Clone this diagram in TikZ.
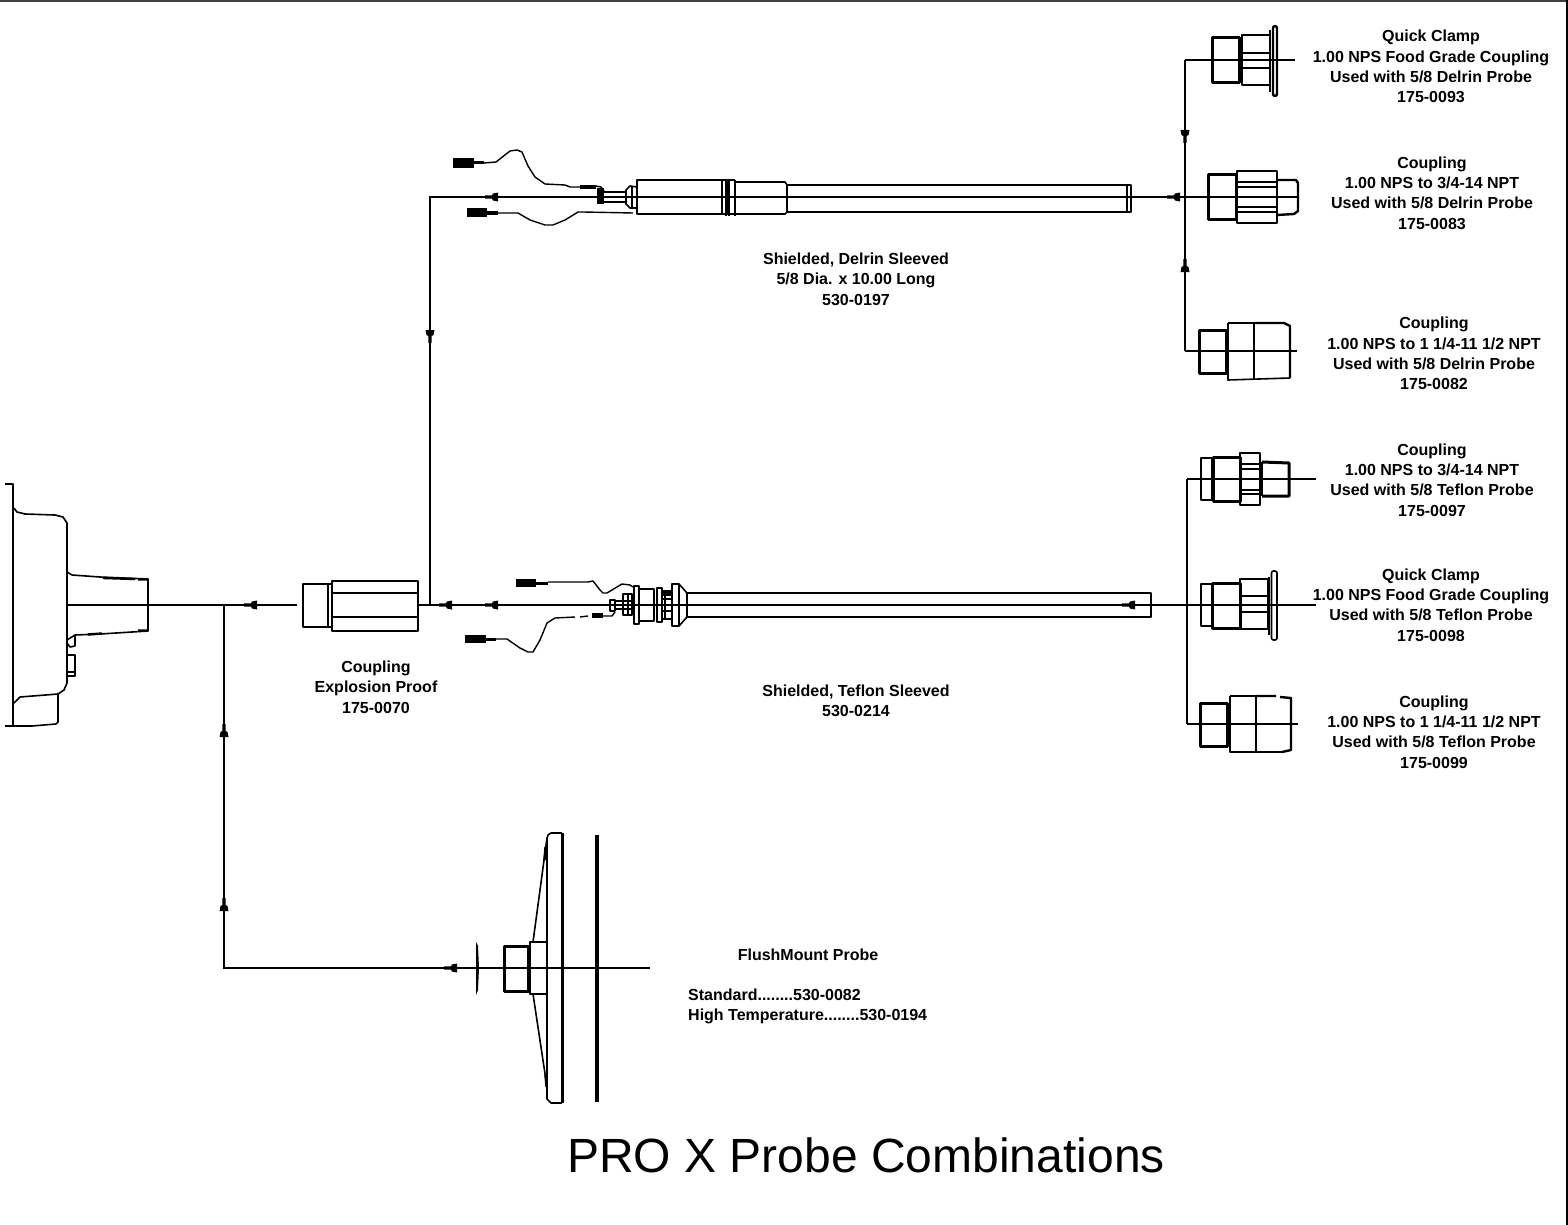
\documentclass[tikz,border=0pt]{standalone}
\usepackage{fontspec}
\setmainfont{Liberation Sans}
\tikzset{
  part/.style={line width=1.6pt, line join=round},
  heavy/.style={line width=3pt, line join=round},
  midline/.style={line width=2.4pt, line join=round},
  wire/.style={line width=1.4pt, line join=round},
  conn/.style={line width=1.6pt},
  lbl/.style={align=center, inner sep=0pt, font=\fontsize{16}{20.4}\selectfont\bfseries},
  flowmark/.pic={\fill (-6,-4.5) -- (-6,4.5) -- (-1,3.5) -- (0,1.6) -- (7,1.6) -- (7,-1.6) -- (0,-1.6) -- (-1,-3.5) -- cycle;}
}
\begin{document}
\begin{tikzpicture}[x=1pt,y=-1pt]
  \useasboundingbox (0,0) rectangle (1568,1225);
  \draw[line width=2pt, black!75] (0,1) -- (1567,1);
  \draw[line width=1.6pt] (1567,0) -- (1567,1225);

  % connector points
  \coordinate (hub) at (67,605);
  \coordinate (teeflush) at (224,605);
  \coordinate (expleft) at (297,605);
  \coordinate (expright) at (418,605);
  \coordinate (teeprobe) at (430,605);
  \coordinate (delrinleft) at (430,197);
  \coordinate (delrinbus) at (1185,197);
  \coordinate (delrinend) at (1298,197);
  \coordinate (bustop) at (1185,60);
  \coordinate (clampend) at (1295,60);
  \coordinate (busbot) at (1185,351);
  \coordinate (npt1end) at (1297,351);
  \coordinate (teflonend) at (1316,605);
  \coordinate (tefbustop) at (1187,479);
  \coordinate (tefbusbot) at (1187,724);
  \coordinate (npt2end) at (1316,479);
  \coordinate (npt3end) at (1298,724);
  \coordinate (flushcorner) at (224,968);
  \coordinate (flushend) at (650,968);

  \draw[conn] (hub) -- (expleft);
  \draw[conn] (teeflush) -- (flushcorner) -- (flushend);
  \draw[conn] (expright) -- (teflonend);
  \draw[conn] (teeprobe) -- (delrinleft) -- (delrinend);
  \draw[conn] (bustop) -- (busbot);
  \draw[conn] (clampend) -- (bustop);
  \draw[conn] (npt1end) -- (busbot);
  \draw[conn] (tefbustop) -- (tefbusbot);
  \draw[conn] (npt2end) -- (tefbustop);
  \draw[conn] (npt3end) -- (tefbusbot);

  \foreach \x/\y/\a in {251/605/180,446/605/180,492/605/180,1129/605/180,492/197/180,1174/197/180,
    430/336/-90,224/731/90,224/905/90,451/968/180,1185/136/-90,1185/266/90}{
    \pic[rotate=\a] at (\x,\y) {flowmark};
  }

  % coupling bodies, heavy outline
  \foreach \a/\b/\c/\d in {1212/38/1239/83,1208/175/1236/219,1199/330/1226/373,1213/457/1240/501,
    1212/583/1240/628,1200/703/1227/746,504/946/528/991}{
    \draw[heavy] (\a,\b) -- (\c,\b) -- (\c,\d) -- (\a,\d) -- cycle;
  }
  % plain outline
  \foreach \a/\b/\c/\d in {303/584/328/627,332/581/418/631,637/180/727/214,787/185/1131/212,
    1242/35/1270/85,1237/171/1277/223,1201/458/1212/500,1240/453/1260/505,1201/584/1212/626,
    1240/579/1268/629,530/942/547/994,639/589/654/621,623/594/632/615}{
    \draw[part] (\a,\b) -- (\c,\b) -- (\c,\d) -- (\a,\d) -- cycle;
  }

  % housing
  \draw[part] (5,484) -- (13,484) -- (13,726);
  \draw[part] (14,508) -- (17,512) -- (25,514) -- (55,515) -- (63,517) -- (67,523) -- (67,683) -- (64,690) -- (58,694) -- (20,697) -- (14,703);
  \draw[part] (5,726) -- (32,726) -- (56,724) -- (58,722) -- (58,694);
  \draw[part] (67,572) -- (72,575) -- (100,577) -- (148,579) -- (148,631) -- (100,634) -- (75,635) -- (67,640);
  \draw[midline] (103,578) -- (135,579) (138,579.5) -- (148,579.5) (88,634.5) -- (102,633.5) (138,630.5) -- (148,630.5);
  \draw[part] (75,635) -- (75,646) -- (70,647) -- (67,643);
  \draw[part] (67,655) -- (75,655) -- (75,676) -- (67,676) (67,672) -- (75,672);

  % explosion proof coupling
  \draw[midline] (303,584) -- (328,584) (303,627) -- (328,627);
  \draw[part] (328,584) -- (332,584) (328,627) -- (332,627);
  \draw[part] (332,593) -- (418,593) (332,617) -- (418,617);

  % delrin probe
  \fill (453,158) rectangle (474,168);
  \fill (474,161.5) rectangle (484,164.5);
  \draw[wire] (484,163) -- (496,162) -- (510,151) -- (517,150) -- (522,152) -- (528,166) -- (535,177) -- (545,184) -- (565,185) -- (570,187) -- (580,187);
  \fill (580,185) rectangle (596,189);
  \draw[wire] (596,186) -- (601,187) -- (604,191);
  \fill (467,208) rectangle (487,217);
  \fill (487,211) rectangle (498,214.5);
  \draw[wire] (498,213) -- (518,213) -- (530,220) -- (545,225) -- (553,225) -- (565,220) -- (578,212) -- (583,212) -- (633,213);
  \fill (597,188) rectangle (604,204);
  \draw[part] (604,192) -- (626,192) (604,202) -- (626,202);
  \draw[part] (637,187) -- (630,186) -- (626,190) -- (626,204) -- (630,208) -- (637,208);
  \draw[part] (632,186) -- (632,208);
  \draw[part] (722,180) -- (722,214) (735,180) -- (735,216) (727,180) -- (735,180) (727,214) -- (735,214);
  \draw[line width=2pt] (725.5,179) -- (725.5,216) (729,179) -- (729,216);
  \draw[part] (735,182) -- (785,182) -- (787,185) -- (787,212) -- (785,214) -- (735,214);
  \draw[part] (1127,185) -- (1127,212);

  % delrin couplings
  \draw[part] (1242,53) -- (1270,53) (1242,68) -- (1270,68);
  \draw[part] (1270,30) -- (1270,92);
  \draw[midline, rounded corners=2pt] (1273,26) rectangle (1277,96);
  \draw[part] (1237,182) -- (1277,182) (1237,187) -- (1277,187) (1237,207) -- (1277,207) (1237,212) -- (1277,212);
  \draw[midline] (1277,180) -- (1296,180) -- (1298,183) -- (1298,211) -- (1294,214) -- (1277,215);
  \draw[part] (1228,323) -- (1254,323) (1228,323) -- (1228,380) -- (1290,378) (1254,323) -- (1254,379);
  \draw[midline] (1254,323) -- (1284,323) -- (1290,326) -- (1290,378);

  % teflon probe
  \fill (516,579) rectangle (536,587);
  \fill (536,581.5) rectangle (548,584.5);
  \draw[wire] (548,582) -- (588,582) -- (593,581) -- (600,590) -- (603,593) -- (607,593) -- (622,584) -- (630,585) -- (633,587);
  \fill (465,635) rectangle (486,643);
  \fill (486,637.5) rectangle (496,640.5);
  \draw[wire] (496,639) -- (507,639) -- (520,648) -- (528,652) -- (533,652) -- (540,640) -- (547,623) -- (555,618) -- (575,617);
  \draw[wire] (580,617) -- (588,616);
  \fill (592,613) rectangle (603,618);
  \draw[wire] (603,616) -- (612,616) -- (615,612);
  \draw[midline] (610,600) -- (615,600) -- (615,611) -- (610,611) -- cycle;
  \draw[part] (615,601) -- (623,601) (615,609) -- (623,609);
  \draw[part] (623,601) -- (632,601) (623,609) -- (632,609) (628,594) -- (628,615);
  \draw[midline] (634,586) -- (639,586) -- (639,624) -- (634,624) -- cycle;
  \draw[midline] (657,588) -- (662,588) -- (662,622) -- (657,622) -- cycle;
  \fill (662,590) rectangle (672,596);
  \draw[midline] (662,619) -- (672,619);
  \draw[part] (665,591) -- (665,619) (662,599) -- (672,599) (662,611) -- (672,611);
  \draw[midline] (672,584) -- (679,584) -- (679,626) -- (672,626) -- cycle;
  \draw[part] (679,584) -- (687,593) -- (687,617) -- (679,626);
  \draw[part] (687,593) -- (1151,593) -- (1151,617) -- (687,617);

  % teflon couplings
  \draw[part] (1240,464) -- (1260,464) (1240,469) -- (1260,469) (1240,490) -- (1260,490) (1240,494) -- (1260,494);
  \draw[heavy] (1262,462) -- (1289,463) -- (1289,496) -- (1262,496);
  \draw[part] (1262,462) -- (1262,496);
  \draw[part] (1240,596) -- (1268,596) (1240,612) -- (1268,612);
  \draw[part] (1269,577) -- (1269,635);
  \draw[part, rounded corners=2pt] (1271.5,571) rectangle (1277,640);
  \draw[part] (1230,696) -- (1256,696) (1230,696) -- (1230,752) -- (1282,752) (1256,696) -- (1256,752);
  \draw[midline] (1256,696) -- (1276,696) (1280,697) -- (1291,698) -- (1291,750) -- (1282,752);

  % flush mount probe
  \fill (476,942) -- (478,946) -- (479,968) -- (478,990) -- (476,995) -- cycle;
  \draw[part] (530,946) -- (530,991);
  \draw[part] (533,942) -- (547,838) (533,994) -- (547,1087);
  \draw[midline] (545.5,847) -- (544.5,860) (545.5,1075) -- (546.5,1087);
  \draw[part] (547,838) -- (548,835) -- (551,833) -- (562,833) (547,838) -- (547,1099) -- (551,1103) -- (562,1103);
  \draw[line width=3.2pt] (562.5,833) -- (562.5,1103);
  \draw[line width=3.2pt] (597,835) -- (597,1102);

  % labels
  \node[lbl] (clampdelrin) at (1431,66.5) {Quick Clamp\\1.00 NPS Food Grade Coupling\\Used with 5/8 Delrin Probe\\175-0093};
  \node[lbl] (nptdelrin) at (1432,193) {Coupling\\1.00 NPS to 3/4-14 NPT\\Used with 5/8 Delrin Probe\\175-0083};
  \node[lbl] (npsdelrin) at (1434,353.5) {Coupling\\1.00 NPS to 1 1/4-11 1/2 NPT\\Used with 5/8 Delrin Probe\\175-0082};
  \node[lbl] (npttef) at (1432,480) {Coupling\\1.00 NPS to 3/4-14 NPT\\Used with 5/8 Teflon Probe\\175-0097};
  \node[lbl] (clamptef) at (1431,605) {Quick Clamp\\1.00 NPS Food Grade Coupling\\Used with 5/8 Teflon Probe\\175-0098};
  \node[lbl] (npstef) at (1434,732) {Coupling\\1.00 NPS to 1 1/4-11 1/2 NPT\\Used with 5/8 Teflon Probe\\175-0099};
  \node[lbl] (delrinlbl) at (856,279) {Shielded, Delrin Sleeved\\5/8 Dia. x 10.00 Long\\530-0197};
  \node[lbl] (teflonlbl) at (856,701) {Shielded, Teflon Sleeved\\530-0214};
  \node[lbl] (explbl) at (376,687) {Coupling\\Explosion Proof\\175-0070};
  \node[lbl] (flushlbl) at (808,955) {FlushMount Probe};
  \node[lbl, align=left, anchor=west] (flushnums) at (688,1006.5) {Standard........530-0082\\High Temperature........530-0194};
  \node[inner sep=0pt, font=\fontsize{48}{52}\selectfont] (title) at (866,1155) {PRO X Probe Combinations};
\end{tikzpicture}
\end{document}
